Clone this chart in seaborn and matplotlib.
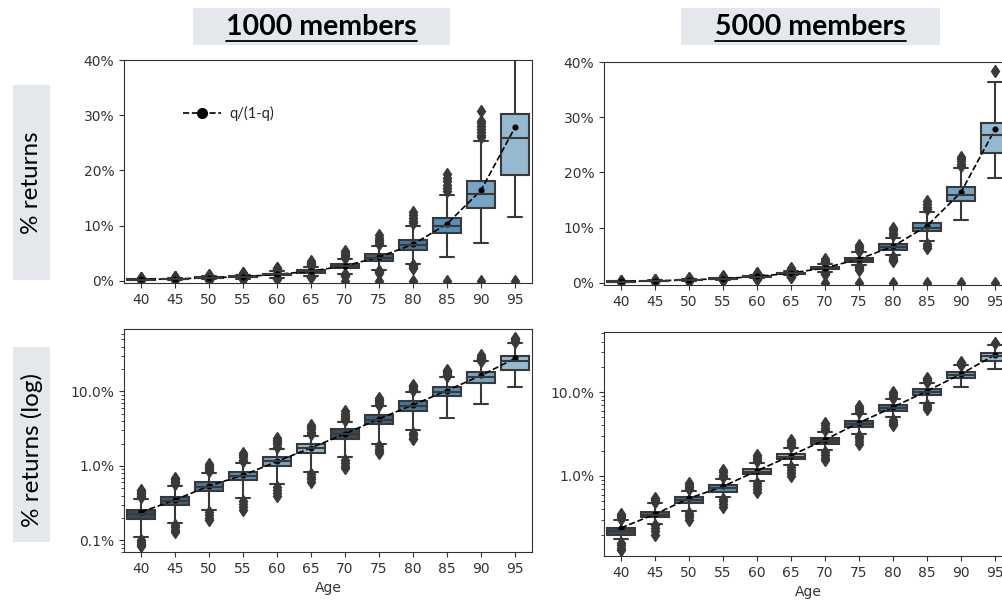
import matplotlib
matplotlib.use("Agg")
import matplotlib.pyplot as plt
import seaborn as sns
from matplotlib.patches import Rectangle
from matplotlib.lines import Line2D
from matplotlib.ticker import PercentFormatter, NullFormatter

# -------------------------------
# DATA (values in %)
# -------------------------------
ages = [40, 45, 50, 55, 60, 65, 70, 75, 80, 85, 90, 95]
age_labels = [str(a) for a in ages]
q_ratio = [0.24, 0.35, 0.54, 0.75, 1.15, 1.75, 2.7, 4.3, 6.6, 10.3, 16.4, 27.8]

# 1000 members
whislo_1000 = [0.113, 0.17, 0.26, 0.37, 0.57, 0.83, 1.3, 2.0, 3.0, 4.4, 6.8, 11.6]
q1_1000 = [0.195, 0.30, 0.46, 0.65, 1.0, 1.48, 2.3, 3.65, 5.5, 8.6, 13.2, 19.2]
med_1000 = [0.227, 0.34, 0.53, 0.74, 1.15, 1.72, 2.65, 4.2, 6.4, 9.9, 15.8, 25.8]
q3_1000 = [0.26, 0.385, 0.61, 0.83, 1.3, 2.0, 3.1, 4.8, 7.4, 11.4, 18.0, 30.2]
whishi_1000 = [0.355, 0.54, 0.81, 1.1, 1.7, 2.55, 3.9, 6.3, 9.9, 15.6, 25.4, 45.0]
out_hi_1000 = [
    [0.38, 0.40, 0.42, 0.44, 0.46, 0.48],
    [0.57, 0.60, 0.63, 0.66, 0.70],
    [0.85, 0.90, 0.95, 1.0, 1.05],
    [1.15, 1.22, 1.3, 1.4, 1.5],
    [1.8, 1.95, 2.1, 2.25, 2.4],
    [2.7, 2.9, 3.1, 3.3, 3.5],
    [4.1, 4.4, 4.7, 5.0, 5.4],
    [6.6, 7.0, 7.4, 7.8, 8.3],
    [10.4, 10.9, 11.4, 11.9, 12.4],
    [16.2, 16.8, 17.4, 18.0, 18.6, 19.3],
    [26.0, 26.5, 27.0, 27.5, 28.0, 28.5, 29.0, 30.8],
    [46.5, 48.0, 50.0, 52.0],
]
out_lo_1000 = [
    [0.10, 0.095, 0.09, 0.085],
    [0.16, 0.15, 0.14, 0.13],
    [0.24, 0.22, 0.20, 0.19],
    [0.34, 0.31, 0.28, 0.26],
    [0.53, 0.48, 0.44, 0.40],
    [0.78, 0.72, 0.66, 0.61],
    [1.2, 1.1, 1.0, 0.95, 0.0],
    [1.85, 1.7, 1.6, 1.5, 0.0],
    [2.8, 2.6, 2.4, 2.3, 0.0],
    [0.0],
    [0.0],
    [0.0],
]

# 5000 members
whislo_5000 = [0.175, 0.27, 0.38, 0.56, 0.87, 1.34, 2.02, 3.2, 5.0, 7.5, 11.4, 19.0]
q1_5000 = [0.20, 0.32, 0.47, 0.65, 1.04, 1.58, 2.43, 3.85, 5.9, 9.3, 14.9, 23.6]
med_5000 = [0.22, 0.345, 0.52, 0.72, 1.12, 1.7, 2.63, 4.2, 6.5, 10.0, 15.9, 26.8]
q3_5000 = [0.24, 0.37, 0.56, 0.79, 1.22, 1.84, 2.86, 4.55, 7.0, 10.8, 17.4, 28.9]
whishi_5000 = [0.30, 0.47, 0.67, 0.93, 1.43, 2.17, 3.34, 5.5, 8.2, 12.9, 20.8, 36.3]
out_hi_5000 = [
    [0.31, 0.32, 0.33, 0.35],
    [0.49, 0.51, 0.53, 0.55],
    [0.70, 0.74, 0.78, 0.82],
    [0.97, 1.03, 1.1, 1.17],
    [1.5, 1.6, 1.7, 1.8],
    [2.27, 2.4, 2.52, 2.65],
    [3.5, 3.75, 4.0, 4.3],
    [5.8, 6.1, 6.5, 6.9],
    [8.6, 9.0, 9.5, 10.0],
    [13.3, 13.8, 14.3, 14.8],
    [21.2, 21.6, 22.0, 22.4, 22.8],
    [38.4],
]
out_lo_5000 = [
    [0.16, 0.15, 0.14, 0.13],
    [0.26, 0.24, 0.22, 0.20],
    [0.36, 0.34, 0.32, 0.30],
    [0.53, 0.50, 0.46, 0.43],
    [0.82, 0.76, 0.70, 0.64],
    [1.27, 1.18, 1.09, 1.0],
    [1.92, 1.8, 1.65, 1.54, 0.0],
    [3.0, 2.8, 2.6, 2.4, 0.0],
    [4.7, 4.4, 4.2, 4.0, 0.0],
    [7.1, 6.7, 6.3, 0.0],
    [0.0],
    [0.0],
]

# -------------------------------
# STYLE
# -------------------------------
sns.set_style("ticks")
plt.rcParams["font.family"] = ["DejaVu Sans"]
plt.rcParams["xtick.labelsize"] = 10
plt.rcParams["ytick.labelsize"] = 10

pal = sns.color_palette("Blues_d", 6)[::-1]
box_colors = [sns.desaturate(c, 0.75) for c in pal] * 2
gray = "#393939"
title_font = "Lato"


def make_stats(lo, q1, med, q3, hi, out_hi, out_lo, log=False):
    stats = []
    for i in range(len(med)):
        fl = out_lo[i] + out_hi[i]
        if log:
            fl = [v for v in fl if v > 0]
        stats.append(dict(whislo=lo[i], q1=q1[i], med=med[i], q3=q3[i],
                          whishi=hi[i], fliers=fl))
    return stats


def draw_panel(ax, stats, log=False, ylim=None):
    lw = 1.5
    art = ax.bxp(stats, positions=list(range(len(stats))), widths=0.8,
                 patch_artist=True, manage_ticks=False,
                 boxprops=dict(edgecolor=gray, linewidth=lw),
                 whiskerprops=dict(color=gray, linewidth=lw),
                 capprops=dict(color=gray, linewidth=lw),
                 medianprops=dict(color=gray, linewidth=lw),
                 flierprops=dict(marker="d", markerfacecolor=gray,
                                 markeredgecolor=gray, markersize=6.5))
    for patch, c in zip(art["boxes"], box_colors):
        patch.set_facecolor(c)
    sns.pointplot(x=age_labels, y=q_ratio, ax=ax, color="black",
                  linestyle="--", markers="o", markersize=3.5,
                  linewidth=1.2, errorbar=None)
    ax.set_xticks(range(len(ages)))
    ax.set_xticklabels(age_labels)
    ax.set_xlim(-0.5, len(ages) - 0.5)
    if log:
        ax.set_yscale("log")
        ax.yaxis.set_major_formatter(PercentFormatter(100, decimals=1))
        ax.yaxis.set_minor_formatter(NullFormatter())
    else:
        ax.set_yticks([0, 10, 20, 30, 40])
        ax.yaxis.set_major_formatter(PercentFormatter(100, decimals=0))
    ax.set_ylim(*ylim)
    ax.tick_params(colors="#333333")
    for s in ax.spines.values():
        s.set_color("#333333")


W, H = 1002, 601
fig = plt.figure(figsize=(W / 100, H / 100), dpi=100)


def px_axes(x0, y0, x1, y1):
    return fig.add_axes([x0 / W, 1 - y1 / H, (x1 - x0) / W, (y1 - y0) / H])


ax_tl = px_axes(124, 60, 532, 283)
ax_tr = px_axes(604, 62, 1012, 285)
ax_bl = px_axes(124, 329, 532, 552)
ax_br = px_axes(604, 332, 1012, 556)

draw_panel(ax_tl, make_stats(whislo_1000, q1_1000, med_1000, q3_1000, whishi_1000,
                             out_hi_1000, out_lo_1000), ylim=(-0.4, 40))
draw_panel(ax_tr, make_stats(whislo_5000, q1_5000, med_5000, q3_5000, whishi_5000,
                             out_hi_5000, out_lo_5000), ylim=(-0.4, 40))
draw_panel(ax_bl, make_stats(whislo_1000, q1_1000, med_1000, q3_1000, whishi_1000,
                             out_hi_1000, out_lo_1000, log=True),
           log=True, ylim=(0.07, 69))
draw_panel(ax_br, make_stats(whislo_5000, q1_5000, med_5000, q3_5000, whishi_5000,
                             out_hi_5000, out_lo_5000, log=True),
           log=True, ylim=(0.111, 52))

for ax in (ax_bl, ax_br):
    ax.set_xlabel("Age", fontsize=10, color="#333333", labelpad=4)

# legend
handle = Line2D([], [], color="black", linestyle="--", marker="o",
                markersize=7, linewidth=1.2)
ax_tl.legend([handle], ["q/(1-q)"], loc="center left",
             bbox_to_anchor=(0.145, 0.758), frameon=False, borderpad=0,
             borderaxespad=0, handlelength=2.6, handletextpad=0.6,
             prop=dict(family=title_font, size=10.5))

# header / row label boxes
box_col = "#e4e7eb"


def gray_box(x0, y0, x1, y1):
    fig.patches.append(Rectangle((x0 / W, 1 - y1 / H), (x1 - x0) / W, (y1 - y0) / H,
                                 transform=fig.transFigure, facecolor=box_col,
                                 edgecolor="none", zorder=0))


gray_box(193, 8, 450, 45)
gray_box(681, 8, 940, 45)
gray_box(13, 85, 50, 280)
gray_box(13, 347, 50, 542)

headers = []
for xc, txt in [(321.5, "1000 members"), (810.5, "5000 members")]:
    t = fig.text(xc / W, 1 - 27 / H, txt, ha="center", va="center",
                 fontsize=20.5, fontweight="bold", family=title_font, color="black")
    headers.append(t)

fig.text(31.5 / W, 1 - 182.5 / H, "% returns", rotation=90, ha="center",
         va="center", fontsize=17.5, family=title_font, color="black")
fig.text(31.5 / W, 1 - 450 / H, "% returns (log)", rotation=90, ha="center",
         va="center", fontsize=17.5, family=title_font, color="black")

# underline headers
fig.canvas.draw()
renderer = fig.canvas.get_renderer()
for t in headers:
    bb = t.get_window_extent(renderer=renderer)
    yline = bb.y0 - 0.5
    fig.add_artist(Line2D([bb.x0 / W, bb.x1 / W], [yline / H, yline / H],
                          transform=fig.transFigure, color="black", linewidth=1.3))

fig.savefig("out.png", dpi=100)
